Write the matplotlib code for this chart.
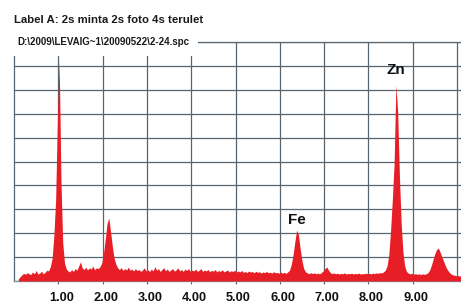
import numpy as np
import matplotlib
matplotlib.use("Agg")
import matplotlib.pyplot as plt
from matplotlib.patches import Rectangle
from matplotlib.transforms import ScaledTranslation

# Energy axis (keV), 0.04 keV channels from 0.10 to 10.10
energy_start = 0.10
energy_step = 0.04
counts = [
    0.10, 0.18, 0.26, 0.32, 0.28, 0.35, 0.30, 0.27, 0.38, 0.30,
    0.44, 0.29, 0.33, 0.41, 0.30, 0.36, 0.45, 0.42, 0.60, 0.95,
    1.90, 3.40, 6.80, 9.25, 4.20, 1.60, 0.75, 0.50, 0.42, 0.38,
    0.48, 0.40, 0.52, 0.45, 0.62, 0.80, 0.55, 0.48, 0.58, 0.46,
    0.55, 0.50, 0.62, 0.47, 0.55, 0.52, 0.60, 0.75, 1.15, 1.75,
    2.40, 2.64, 2.05, 1.45, 0.95, 0.70, 0.55, 0.48, 0.56, 0.44,
    0.52, 0.46, 0.58, 0.45, 0.50, 0.42, 0.52, 0.44, 0.48, 0.40,
    0.46, 0.55, 0.42, 0.47, 0.40, 0.50, 0.42, 0.60, 0.45, 0.52,
    0.40, 0.48, 0.56, 0.43, 0.50, 0.40, 0.46, 0.52, 0.41, 0.47,
    0.55, 0.42, 0.48, 0.40, 0.50, 0.44, 0.52, 0.40, 0.46, 0.42,
    0.50, 0.40, 0.45, 0.52, 0.40, 0.46, 0.42, 0.48, 0.38, 0.45,
    0.41, 0.48, 0.38, 0.44, 0.40, 0.47, 0.38, 0.42, 0.46, 0.38,
    0.43, 0.40, 0.45, 0.37, 0.42, 0.38, 0.44, 0.36, 0.40, 0.35,
    0.42, 0.37, 0.40, 0.34, 0.41, 0.36, 0.39, 0.33, 0.38, 0.35,
    0.40, 0.34, 0.37, 0.33, 0.39, 0.34, 0.36, 0.32, 0.37, 0.33,
    0.36, 0.32, 0.38, 0.45, 0.70, 1.10, 1.65, 2.13, 1.95, 1.35,
    0.85, 0.52, 0.38, 0.34, 0.30, 0.35, 0.31, 0.34, 0.30, 0.33,
    0.30, 0.36, 0.42, 0.52, 0.59, 0.45, 0.35, 0.31, 0.34, 0.30,
    0.33, 0.29, 0.32, 0.30, 0.34, 0.29, 0.32, 0.30, 0.33, 0.29,
    0.32, 0.30, 0.33, 0.29, 0.31, 0.30, 0.33, 0.30, 0.32, 0.30,
    0.33, 0.31, 0.34, 0.32, 0.35, 0.34, 0.38, 0.45, 0.62, 1.10,
    2.10, 3.40, 4.90, 8.20, 7.10, 4.40, 2.40, 1.20, 0.62, 0.40,
    0.33, 0.30, 0.32, 0.28, 0.31, 0.28, 0.30, 0.27, 0.30, 0.28,
    0.30, 0.34, 0.45, 0.65, 0.90, 1.15, 1.32, 1.38, 1.20, 1.00,
    0.82, 0.62, 0.48, 0.38, 0.30, 0.26, 0.24, 0.22, 0.23, 0.21,
    0.22,
]
energy = energy_start + energy_step * np.arange(len(counts))

xticks = [1, 2, 3, 4, 5, 6, 7, 8, 9]
xtick_labels = ["1.00", "2.00", "3.00", "4.00", "5.00", "6.00", "7.00", "8.00", "9.00"]
peak_labels = ["Fe", "Zn"]
peak_pos = [6.40, 8.63]
peak_label_y = [2.57, 8.83]

title = "Label A: 2s minta 2s foto 4s terulet"
filename = "D:\\2009\\LEVAIG~1\\20090522\\2-24.spc"

W, H = 461, 305
fig = plt.figure(figsize=(W / 100, H / 100), dpi=100)
fig.patch.set_facecolor("white")

ax = fig.add_axes([14 / W, 24 / H, (W - 14) / W, 239 / H])
ax.set_xlim(0, 10.09)
ax.set_ylim(0, 10)

grid_c = "#56656f"
ax.fill_between(energy, 0, counts, color="#e81e26", linewidth=0, zorder=3)

ax.set_yticks(np.arange(0, 11, 1))
ax.grid(True, color=grid_c, linewidth=0.9, zorder=1)
ax.set_axisbelow(True)
ax.set_xticks(xticks)
ax.set_xticklabels(xtick_labels, fontsize=9.2, fontweight="bold",
                   family="Liberation Sans", color="#111111")
ax.axvline(10, color=grid_c, linewidth=0.9, zorder=1)
ax.tick_params(axis="x", length=2, color=grid_c, pad=6)
ax.tick_params(axis="y", length=0, labelleft=False)
for lab in ax.get_xticklabels():
    lab.set_transform(lab.get_transform() + ScaledTranslation(3 / 100, 0, fig.dpi_scale_trans))

for s in ["left", "top"]:
    ax.spines[s].set_color(grid_c)
    ax.spines[s].set_linewidth(0.9)
ax.spines["right"].set_visible(False)
ax.spines["bottom"].set_color("#7e98a8")
ax.spines["bottom"].set_linewidth(1.0)

for lab, xp, yp in zip(peak_labels, peak_pos, peak_label_y):
    ax.text(xp - 0.02, yp, lab, ha="center", va="center", fontsize=11,
            fontweight="bold", family="Liberation Sans", color="#111111", zorder=5)

# white box behind file name
fig.add_artist(Rectangle((0, (H - 56) / H), 198 / W, 30 / H,
                         transform=fig.transFigure, facecolor="white",
                         edgecolor="none", zorder=5))
fig.text(14 / W, (H - 23) / H, title, ha="left", va="baseline",
         fontsize=8.2, fontweight="bold", family="Liberation Sans", color="#1a1a1a", zorder=6)
fig.text(17 / W, (H - 45) / H, filename, ha="left", va="baseline",
         fontsize=7.0, fontweight="bold", family="Liberation Sans", color="#1a1a1a", zorder=6)

fig.savefig("out.png", dpi=100)
